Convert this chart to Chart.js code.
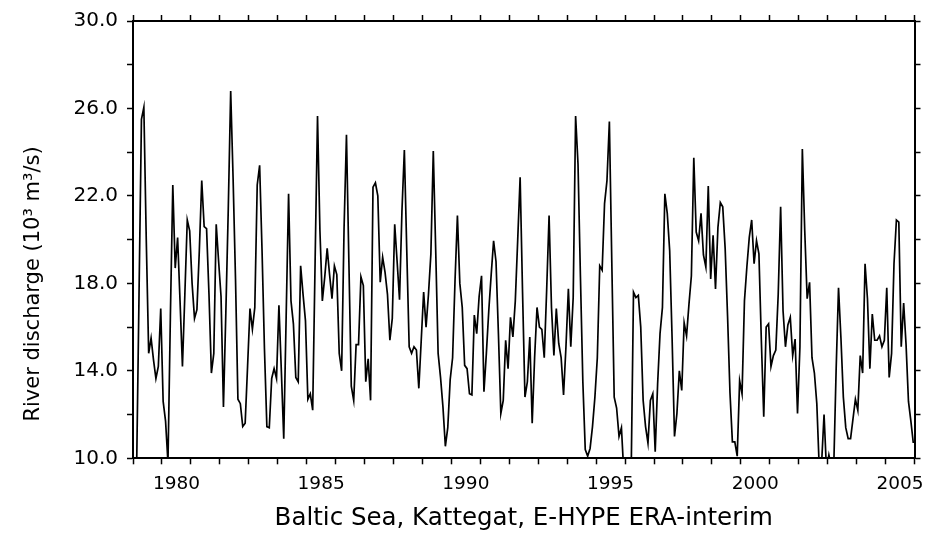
<!DOCTYPE html>
<html><head><meta charset="utf-8">
<script src="https://cdn.jsdelivr.net/npm/chart.js@4"></script>
<style>html,body{margin:0;padding:0;background:#fff}</style>
</head><body>
<canvas id="c" width="932" height="533"></canvas>
<script>
const startYear = 1979;
const endYear = 2006;
const discharge = [
  8.0, 9.5, 17.5, 25.5, 26.05, 20.0, 14.8, 15.5, 14.5, 13.65, 14.2, 16.85,
  12.6, 11.7, 9.8, 16.5, 22.5, 18.7, 20.1, 17.2, 14.2, 17.5, 20.9, 20.4,
  18.0, 16.4, 16.8, 19.5, 22.7, 20.6, 20.5, 17.5, 13.9, 14.8, 20.7, 19.0,
  17.4, 12.35, 16.7, 21.4, 26.8, 22.8, 18.2, 12.7, 12.5, 11.45, 11.6, 14.2,
  16.85, 15.9, 16.9, 22.5, 23.4, 19.5, 15.0, 11.45, 11.4, 13.65, 14.1, 13.65,
  17.0, 14.0, 10.9, 16.5, 22.1, 17.2, 16.15, 13.7, 13.5, 18.8, 17.5, 16.3,
  12.7, 12.95, 12.2, 19.0, 25.65, 20.4, 17.2, 18.3, 19.6, 18.4, 17.3, 18.8,
  18.4, 14.8, 14.0, 20.5, 24.8, 19.0, 13.3, 12.65, 15.2, 15.2, 18.3, 17.9,
  13.5, 14.55, 12.65, 22.4, 22.6, 22.0, 18.05, 19.2, 18.5, 17.5, 15.4, 16.4,
  20.7, 19.0, 17.25, 21.3, 24.1, 19.5, 15.1, 14.8, 15.1, 14.95, 13.2, 15.4,
  17.6, 16.0, 17.5, 19.35, 24.05, 19.5, 14.8, 13.7, 12.35, 10.55, 11.4, 13.6,
  14.6, 18.1, 21.1, 18.0, 16.9, 14.25, 14.1, 12.95, 12.9, 16.55, 15.7, 17.4,
  18.35, 13.05, 14.8, 16.75, 18.4, 19.95, 19.0, 15.7, 12.05, 12.65, 15.4, 14.1,
  16.45, 15.55, 17.2, 20.0, 22.85, 17.6, 12.8, 13.5, 15.55, 11.6, 14.6, 16.9,
  16.0, 15.9, 14.6, 17.7, 21.1, 16.9, 14.7, 16.85, 15.25, 14.6, 12.9, 15.1,
  17.75, 15.1, 17.35, 25.65, 23.45, 18.3, 13.5, 10.4, 10.1, 10.45, 11.45, 12.8,
  14.6, 18.8, 18.6, 21.65, 22.7, 25.4, 19.0, 12.8, 12.3, 11.0, 11.4, 9.3,
  8.5, 8.8, 9.0, 17.6, 17.35, 17.45, 16.0, 12.65, 11.45, 10.7, 12.65, 12.95,
  10.3, 13.4, 15.7, 16.9, 22.1, 21.2, 19.5, 15.5, 11.0, 12.05, 14.0, 13.1,
  16.2, 15.6, 17.05, 18.35, 23.75, 20.35, 19.95, 21.2, 19.3, 18.75, 22.45, 18.2,
  20.2, 17.75, 20.55, 21.7, 21.5, 19.6, 16.5, 13.0, 10.75, 10.75, 10.1, 13.55,
  12.95, 17.2, 18.75, 20.1, 20.9, 18.9, 19.95, 19.35, 15.4, 11.9, 16.0, 16.15,
  14.2, 14.7, 14.95, 17.5, 21.5, 16.75, 15.1, 16.1, 16.45, 14.7, 15.45, 12.05,
  15.1, 24.15, 20.4, 17.3, 18.05, 14.6, 13.9, 12.5, 9.6, 9.8, 12.0, 9.5,
  10.15, 9.6, 9.5, 14.0, 17.8, 15.5, 12.8, 11.4, 10.9, 10.9, 11.8, 12.7,
  12.2, 14.7, 13.9, 18.9, 17.3, 14.1, 16.6, 15.4, 15.4, 15.6, 15.1, 15.4,
  17.8, 13.7, 14.8, 18.9, 20.9, 20.8, 15.1, 17.1, 15.2, 12.6, 11.7, 10.7
];
const xLabelYears = [1980, 1985, 1990, 1995, 2000, 2005];
const yLabelValues = [10, 14, 18, 22, 26, 30];
const yMin = 10, yMax = 30, yStep = 2;
const xTitle = 'Baltic Sea, Kattegat, E-HYPE ERA-interim';
const yTitle = 'River discharge (10\u00B3 m\u00B3/s)';

const FONT = 'DejaVu Sans';
const points = discharge.map((v, i) => ({ x: startYear + (i + 0.5) / 12, y: v }));

const yearTicks = [];
for (let y = startYear; y <= endYear; y++) yearTicks.push(y);
const bottomTicks = yearTicks.concat(xLabelYears.map(y => y + 0.5)).sort((a, b) => a - b);

const tickGrid = {
  drawOnChartArea: false, drawTicks: true, tickLength: 6, tickWidth: 1.5,
  tickColor: ctx => (ctx.tick && ctx.tick.value % 1 !== 0) ? 'rgba(0,0,0,0)' : '#000'
};
const axisBorder = { display: true, color: '#000', width: 2 };

const yTitlePlugin = {
  id: 'yTitlePlugin',
  afterDraw(chart) {
    const ctx = chart.ctx;
    ctx.save();
    ctx.translate(34, 284);
    ctx.rotate(-Math.PI / 2);
    ctx.font = '21px "' + FONT + '"';
    ctx.fillStyle = '#000';
    ctx.textAlign = 'center';
    ctx.textBaseline = 'middle';
    ctx.fillText(yTitle, 0, 0);
    ctx.restore();
  }
};
const bgPlugin = {
  id: 'bg',
  beforeDraw(chart) {
    const c = chart.ctx; c.save(); c.fillStyle = '#fff'; c.fillRect(0, 0, chart.width, chart.height); c.restore();
  }
};

new Chart(document.getElementById('c'), {
  type: 'line',
  data: { datasets: [{
    data: points, borderColor: '#000', borderWidth: 1.7, pointRadius: 0,
    tension: 0, fill: false, clip: 0
  }]},
  options: {
    responsive: false, animation: false, devicePixelRatio: 1,
    layout: { padding: 0 },
    plugins: { legend: { display: false }, tooltip: { enabled: false } },
    scales: {
      x: {
        type: 'linear', position: 'bottom', min: startYear, max: endYear,
        afterBuildTicks: s => { s.ticks = bottomTicks.map(v => ({ value: v })); },
        afterFit: s => { s.height = 74.7; },
        grid: tickGrid, border: axisBorder,
        ticks: {
          autoSkip: false, maxRotation: 0, minRotation: 0, padding: 9, color: '#000',
          font: { family: FONT, size: 18.5 },
          callback: v => (v % 1 !== 0 && xLabelYears.includes(v - 0.5)) ? String(v - 0.5) : ''
        },
        title: { display: true, text: xTitle, color: '#000', font: { family: FONT, size: 24.5 }, padding: { top: 0, bottom: 0 } }
      },
      x2: {
        type: 'linear', position: 'top', min: startYear, max: endYear,
        afterBuildTicks: s => { s.ticks = yearTicks.map(v => ({ value: v })); },
        afterFit: s => { s.height = 18.3; },
        grid: tickGrid, border: axisBorder,
        ticks: { autoSkip: false, maxRotation: 0, callback: () => '', font: { size: 1 } }
      },
      y: {
        type: 'linear', position: 'left', min: yMin, max: yMax,
        afterFit: s => { s.width = 133; },
        grid: tickGrid, border: axisBorder,
        ticks: {
          stepSize: yStep, autoSkip: false, padding: 9, color: '#000',
          font: { family: FONT, size: 20 },
          callback: v => yLabelValues.includes(v) ? v.toFixed(1) : ''
        }
      },
      y2: {
        type: 'linear', position: 'right', min: yMin, max: yMax,
        afterFit: s => { s.width = 17.5; },
        grid: tickGrid, border: axisBorder,
        ticks: { stepSize: yStep, autoSkip: false, callback: () => '', font: { size: 1 } }
      }
    }
  },
  plugins: [bgPlugin, yTitlePlugin]
});
</script>
</body></html>
